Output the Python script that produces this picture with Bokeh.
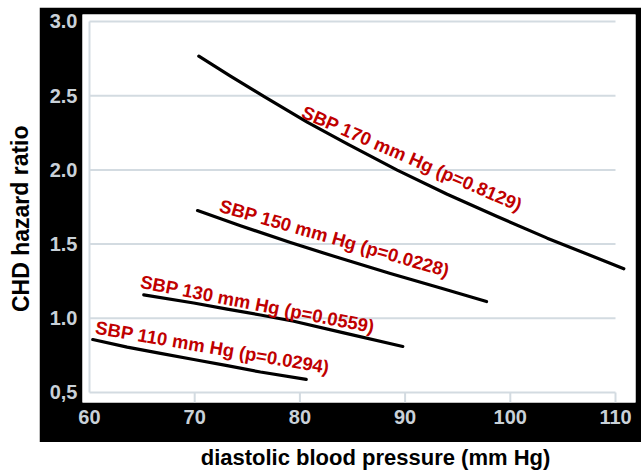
from math import pi, radians
from bokeh.plotting import figure
from bokeh.models import Range1d, FixedTicker, Spacer
from bokeh.layouts import column, row
from bokeh.core.properties import value
from bokeh.embed import file_html
from bokeh.resources import INLINE

# ---- data ----
x_ticks = [60, 70, 80, 90, 100, 110]
x_tick_labels = ["60", "70", "80", "90", "100", "110"]
hr_ticks = [0.5, 1.0, 1.5, 2.0, 2.5, 3.0]
hr_tick_labels = ["0,5", "1.0", "1.5", "2.0", "2.5", "3.0"]

dbp_110 = [60.31, 63.58, 66.75, 69.91, 73.09, 76.25, 80.6]
hr_110 = [0.857, 0.806, 0.764, 0.722, 0.681, 0.638, 0.588]

dbp_130 = [65.16, 69.91, 73.09, 76.25, 79.42, 84.17, 89.78]
hr_130 = [1.158, 1.103, 1.062, 1.022, 0.980, 0.902, 0.810]

dbp_150 = [70.27, 74.35, 79.10, 83.86, 88.60, 93.37, 97.74]
hr_150 = [1.726, 1.624, 1.510, 1.404, 1.302, 1.204, 1.113]

dbp_170 = [70.39, 73.40, 76.57, 80.69, 84.50, 89.25, 94.00, 98.75, 103.51, 110.79]
hr_170 = [2.766, 2.632, 2.495, 2.322, 2.175, 1.998, 1.836, 1.686, 1.540, 1.334]

label_texts = ["SBP 110 mm Hg (p=0.0294)", "SBP 130 mm Hg (p=0.0559)",
               "SBP 150 mm Hg (p=0.0228)", "SBP 170 mm Hg (p=0.8129)"]
label_x = [71.69, 75.97, 83.29, 90.66]
label_y = [0.804, 1.095, 1.540, 2.077]
label_angle_deg = [-9.8, -11.0, -16.0, -23.5]

x_title = "diastolic blood pressure (mm Hg)"
y_title = "CHD hazard ratio"

# ---- styles ----
FONT = "Liberation Sans"
GRID = "#d3dbe1"
TICKLBL = "#c9d1d8"
RED = "#c00000"

p = figure(width=602, height=435,
           x_range=Range1d(59.335, 111.90), y_range=Range1d(0.4326, 3.047),
           output_backend="svg", toolbar_location=None,
           min_border_left=43, min_border_right=6, min_border_top=7, min_border_bottom=40,
           border_fill_color="black", background_fill_color="white",
           outline_line_color=None)
p.xgrid.visible = False
p.ygrid.visible = False

for ax in (p.xaxis[0], p.yaxis[0]):
    ax.axis_line_color = None
    ax.major_tick_line_color = None
    ax.minor_tick_line_color = None
    ax.major_tick_out = 0
    ax.major_tick_in = 0
    ax.major_label_text_font = FONT
    ax.major_label_text_font_style = "bold"
    ax.major_label_text_font_size = "20px"
    ax.major_label_text_color = TICKLBL

p.xaxis.ticker = FixedTicker(ticks=x_ticks)
p.xaxis.major_label_overrides = dict(zip(x_ticks, x_tick_labels))
p.xaxis.major_label_standoff = 7
p.yaxis.ticker = FixedTicker(ticks=hr_ticks)
p.yaxis.major_label_overrides = dict(zip(hr_ticks, hr_tick_labels))
p.yaxis.major_label_standoff = 5

# grid lines (horizontal from first to last x tick), left vertical line, bottom tick marks
n = len(hr_ticks)
p.segment(x0=[x_ticks[0]] * n, y0=hr_ticks, x1=[x_ticks[-1]] * n, y1=hr_ticks,
          line_color=GRID, line_width=2)
p.segment(x0=[x_ticks[0]], y0=[hr_ticks[0]], x1=[x_ticks[0]], y1=[hr_ticks[-1]],
          line_color=GRID, line_width=2)
m = len(x_ticks) - 1
p.segment(x0=x_ticks[1:], y0=[hr_ticks[0]] * m, x1=x_ticks[1:], y1=[p.y_range.start] * m,
          line_color=GRID, line_width=2)

for xs, ys in ((dbp_110, hr_110), (dbp_130, hr_130), (dbp_150, hr_150), (dbp_170, hr_170)):
    p.line(xs, ys, line_color="black", line_width=3.2, line_join="round", line_cap="round")

p.text(x=label_x, y=label_y, text=label_texts, angle=[radians(a) for a in label_angle_deg],
       text_font=value(FONT), text_font_style="bold", text_font_size="18.5px",
       text_color=RED, text_align="center", text_baseline="middle")

# y title strip
yt = figure(width=39, height=435, x_range=Range1d(0, 39), y_range=Range1d(0, 435),
            output_backend="svg", toolbar_location=None, min_border=0,
            x_axis_type=None, y_axis_type=None, outline_line_color=None,
            border_fill_color="white", background_fill_color="white")
yt.text(x=[20], y=[442 - 236], text=[y_title], angle=[pi / 2],
        text_font=value(FONT), text_font_style="bold", text_font_size="23px",
        text_color="black", text_align="center", text_baseline="middle")

# x title strip
xt = figure(width=641, height=29, x_range=Range1d(0, 641), y_range=Range1d(0, 29),
            output_backend="svg", toolbar_location=None, min_border=0,
            x_axis_type=None, y_axis_type=None, outline_line_color=None,
            border_fill_color="white", background_fill_color="white")
xt.text(x=[375], y=[14], text=[x_title],
        text_font=value(FONT), text_font_style="bold", text_font_size="22px",
        text_color="black", text_align="center", text_baseline="middle")

layout = column(Spacer(width=641, height=7), row(yt, p), xt)
open("out.html", "w").write(file_html(layout, INLINE))
